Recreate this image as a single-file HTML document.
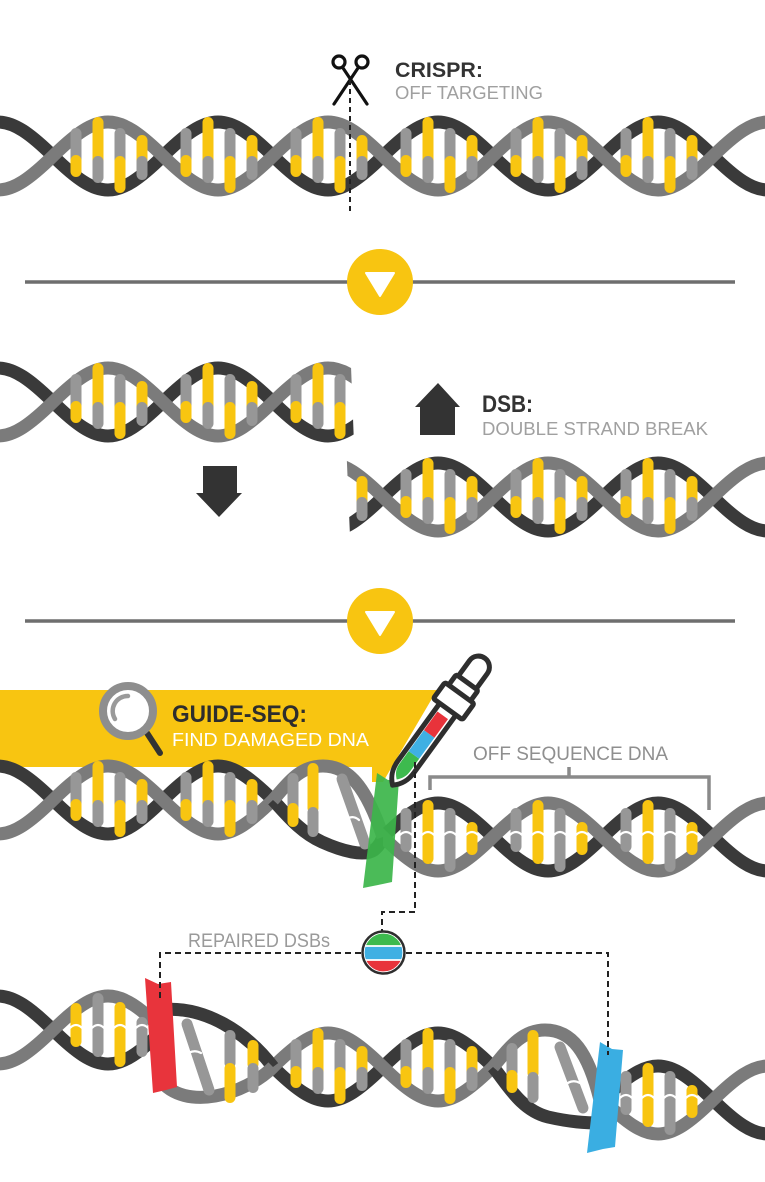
<!DOCTYPE html>
<html><head><meta charset="utf-8">
<style>html,body{margin:0;padding:0;background:#fff}svg{display:block}</style>
</head><body>
<svg width="765" height="1182" viewBox="0 0 765 1182" xmlns="http://www.w3.org/2000/svg" font-family="'Liberation Sans', sans-serif">
<defs>
  <path id="gs" fill="none" stroke="#7b7b7b" stroke-width="13" d="M-57,0c46.2,45.3 63.8,45.3 110,0c46.2,-45.3 63.8,-45.3 110,0c46.2,45.3 63.8,45.3 110,0c46.2,-45.3 63.8,-45.3 110,0c46.2,45.3 63.8,45.3 110,0c46.2,-45.3 63.8,-45.3 110,0c46.2,45.3 63.8,45.3 110,0c46.2,-45.3 63.8,-45.3 110,0"/>
  <path id="ds" fill="none" stroke="#3a3a3a" stroke-width="13" d="M-57,0c46.2,-45.3 63.8,-45.3 110,0c46.2,45.3 63.8,45.3 110,0c46.2,-45.3 63.8,-45.3 110,0c46.2,45.3 63.8,45.3 110,0c46.2,-45.3 63.8,-45.3 110,0c46.2,45.3 63.8,45.3 110,0c46.2,-45.3 63.8,-45.3 110,0c46.2,45.3 63.8,45.3 110,0"/>
  <g id="L" stroke-width="11" stroke-linecap="round" fill="none">
    <path d="M23,-22.5V4" stroke="#979797"/>
    <path d="M23,4.5V15.5" stroke="#f8c511"/>
    <path d="M45,-33.5V5" stroke="#f8c511"/>
    <path d="M45,5.5V21.5" stroke="#979797"/>
    <path d="M67,-22.5V5" stroke="#979797"/>
    <path d="M67,5.5V31.5" stroke="#f8c511"/>
    <path d="M89,-15.5V5" stroke="#f8c511"/>
    <path d="M89,5.5V18.5" stroke="#979797"/>
  </g>
  <g id="LG" stroke-width="11" stroke-linecap="round" fill="none">
    <path d="M23,-23.5V9.5" stroke="#979797"/>
    <path d="M45,-31.5V21.5" stroke="#f8c511"/>
    <path d="M67,-23.5V29.5" stroke="#979797"/>
    <path d="M89,-9.5V12.5" stroke="#f8c511"/>
    <path d="M15,0q8,-10 16,0M37,0q8,-10 16,0M59,0q8,-10 16,0M81,0q8,-10 16,0" stroke="#fff" stroke-width="2.2" stroke-linecap="butt"/>
  </g>
  <g id="LY" stroke-width="11" stroke-linecap="round" fill="none">
    <path d="M23,-21.5V11.5" stroke="#f8c511"/>
    <path d="M45,-31.5V21.5" stroke="#979797"/>
    <path d="M67,-22.5V31.5" stroke="#f8c511"/>
    <path d="M89,-7.5V21.5" stroke="#979797"/>
    <path d="M15,0q8,-10 16,0M37,0q8,-10 16,0M59,0q8,-10 16,0M81,0q8,-10 16,0" stroke="#fff" stroke-width="2.2" stroke-linecap="butt"/>
  </g>
  <clipPath id="c1"><polygon points="0,340 350,340 355,470 0,470"/></clipPath>
  <clipPath id="c2"><polygon points="346,440 765,440 765,560 351,560"/></clipPath>
  <clipPath id="c3"><rect x="0" y="740" width="273.5" height="120"/></clipPath>
  <clipPath id="c4"><rect x="383" y="780" width="382" height="120"/></clipPath>
  <clipPath id="c5"><rect x="0" y="970" width="162" height="120"/></clipPath>
  <clipPath id="c6"><rect x="273" y="1000" width="220.5" height="120"/></clipPath>
  <clipPath id="c7"><rect x="598" y="1040" width="167" height="120"/></clipPath>
  <clipPath id="cc"><circle cx="383.5" cy="952.5" r="21"/></clipPath>
</defs>
<rect width="765" height="1182" fill="#fff"/>

<!-- Header: scissors + text -->
<g stroke="#111" stroke-width="3.2" fill="none" stroke-linecap="round">
  <circle cx="339" cy="62" r="6"/><circle cx="362" cy="62" r="6"/>
  <path d="M343,68 L367,104 M358,68 L334,104"/>
</g>
<text x="395" y="77" font-weight="bold" font-size="21" fill="#333" textLength="88" lengthAdjust="spacingAndGlyphs">CRISPR:</text>
<text x="395" y="99" font-size="18" fill="#a0a0a0" textLength="148" lengthAdjust="spacingAndGlyphs">OFF TARGETING</text>

<!-- Top DNA -->
<g transform="translate(0,156)">
  <use href="#ds"/><use href="#gs"/>
  <use href="#L" x="53"/><use href="#L" x="163"/><use href="#L" x="273"/><use href="#L" x="383"/><use href="#L" x="493"/><use href="#L" x="603"/>
</g>
<path d="M350,80V215" stroke="#222" stroke-width="2" stroke-dasharray="5,4"/>

<!-- Rules -->
<path d="M25,282H735M25,621H735" stroke="#6e6e6e" stroke-width="3.5"/>
<circle cx="380" cy="282" r="33" fill="#f8c511"/>
<path d="M366,273H394L380,296Z" fill="#fff" stroke="#fff" stroke-width="2" stroke-linejoin="round"/>
<circle cx="380" cy="621" r="33" fill="#f8c511"/>
<path d="M366,612H394L380,635Z" fill="#fff" stroke="#fff" stroke-width="2" stroke-linejoin="round"/>

<!-- Middle broken DNA -->
<g clip-path="url(#c1)"><g transform="translate(0,402)">
  <use href="#ds"/><use href="#gs"/>
  <use href="#L" x="53"/><use href="#L" x="163"/><use href="#L" x="273"/>
</g></g>
<g clip-path="url(#c2)"><g transform="translate(0,497)">
  <use href="#ds"/><use href="#gs"/>
  <use href="#L" x="273"/><use href="#L" x="383"/><use href="#L" x="493"/><use href="#L" x="603"/>
</g></g>
<polygon points="203,466 237,466 237,493 242,493 219,517 196,493 203,493" fill="#333"/>
<polygon points="438,383 460,407 455,407 455,435 420,435 420,407 415,407" fill="#333"/>
<text x="482" y="412" font-weight="bold" font-size="24" fill="#333" textLength="51" lengthAdjust="spacingAndGlyphs">DSB:</text>
<text x="482" y="435" font-size="18" fill="#a0a0a0" textLength="226" lengthAdjust="spacingAndGlyphs">DOUBLE STRAND BREAK</text>

<!-- Guide-seq banner -->
<polygon points="0,690 437,690 383,782 372,782 372,767 0,767" fill="#f8c511"/>
<line x1="147" y1="733" x2="160" y2="753" stroke="#333" stroke-width="6" stroke-linecap="round"/>
<circle cx="128" cy="711" r="25" fill="#fff" stroke="#8e8e8e" stroke-width="8"/>
<path d="M115,719 A15,15 0 0 1 128,696" fill="none" stroke="#9a9a9a" stroke-width="4.5" stroke-linecap="round"/>
<text x="172" y="722" font-weight="bold" font-size="24" fill="#2d2d2d" textLength="135" lengthAdjust="spacingAndGlyphs">GUIDE-SEQ:</text>
<text x="172" y="746" font-size="18" fill="#fff" textLength="197" lengthAdjust="spacingAndGlyphs">FIND DAMAGED DNA</text>

<!-- Off sequence label + bracket -->
<text x="473" y="760" font-size="19" fill="#8f8f8f" textLength="195" lengthAdjust="spacingAndGlyphs">OFF SEQUENCE DNA</text>
<path d="M430,790V777H709V810M569,777V767" fill="none" stroke="#8a8a8a" stroke-width="3.5"/>

<!-- Guide-seq DNA -->
<g clip-path="url(#c3)"><g transform="translate(0,800)">
  <use href="#ds"/><use href="#gs"/>
  <use href="#L" x="53"/><use href="#L" x="163"/>
</g></g>
<path d="M273,800 C286,814 300,832 322,842 C342,851 364,857 374,850 C379,846 381,842 383,837" fill="none" stroke="#3a3a3a" stroke-width="13"/>
<path d="M273,800 C286,786 298,766 323,766 C348,766 366,786 383,837" fill="none" stroke="#7b7b7b" stroke-width="13"/>
<g stroke-width="11" stroke-linecap="round" fill="none">
  <path d="M293,778.5V806" stroke="#979797"/>
  <path d="M293,808.5V821.5" stroke="#f8c511"/>
  <path d="M313,768.5V808" stroke="#f8c511"/>
  <path d="M313,812.5V831.5" stroke="#979797"/>
  <path d="M342,779L365,844" stroke="#979797"/>
  <path d="M342,823q9,-10 17,-3" stroke="#fff" stroke-width="2.2"/>
</g>
<g clip-path="url(#c4)"><g transform="translate(0,837)">
  <use href="#ds"/><use href="#gs"/>
  <use href="#LG" x="383"/><use href="#LG" x="493"/><use href="#LG" x="603"/>
</g></g>
<polygon points="377,773 388,780 399,779 392,882 378,885 363,888" fill="#3cb54a" opacity="0.92"/>

<!-- Dropper -->
<g transform="translate(392,786) rotate(-54)" stroke="#2e2e2e" stroke-width="5" stroke-linejoin="round">
  <rect x="120" y="-11" width="38" height="22" rx="11" fill="#fff"/>
  <rect x="112" y="-13.5" width="16" height="27" rx="2" fill="#fff"/>
  <path d="M1,0 C7,-7 14,-10 24,-10 L100,-10 L100,10 L24,10 C14,10 7,7 1,0Z" fill="#fff"/>
  <rect x="95" y="-18" width="20" height="36" rx="2" fill="#fff"/>
  <g stroke="none">
    <path d="M8,0 C12,-4.5 16,-7 22,-7 L38,-7 L38,6 L22,6 C16,6 12,3.5 8,0Z" fill="#3dba4e"/>
    <rect x="38" y="-7" width="26" height="13" fill="#3fb0e3"/>
    <rect x="64" y="-7" width="23" height="13" fill="#e8333b"/>
  </g>
</g>

<!-- Bottom repaired DNA -->
<g clip-path="url(#c5)"><g transform="translate(0,1030)">
  <use href="#ds"/><use href="#gs"/>
  <use href="#LY" x="53"/>
</g></g>
<g clip-path="url(#c6)"><g transform="translate(0,1067)">
  <use href="#ds"/><use href="#gs"/>
  <use href="#L" x="273"/><use href="#L" x="383"/>
</g></g>
<path d="M158,1010 C205,1004 248,1034 273,1067" fill="none" stroke="#3a3a3a" stroke-width="13"/>
<path d="M160,1080 C185,1112 245,1095 273,1067" fill="none" stroke="#7b7b7b" stroke-width="13"/>
<path d="M493,1067 C506,1082 520,1110 548,1117 C570,1122 585,1123 602,1123" fill="none" stroke="#3a3a3a" stroke-width="13"/>
<path d="M493,1067 C506,1052 520,1030 545,1030 C572,1030 588,1052 600,1100" fill="none" stroke="#7b7b7b" stroke-width="13"/>
<g stroke-width="11" stroke-linecap="round" fill="none">
  <path d="M187,1024L209,1090" stroke="#979797"/>
  <path d="M184,1057q8,-9 17,-4" stroke="#fff" stroke-width="2.2"/>
  <path d="M230,1035.5V1063" stroke="#979797"/>
  <path d="M230,1068.5V1097.5" stroke="#f8c511"/>
  <path d="M253,1045.5V1064" stroke="#f8c511"/>
  <path d="M253,1068.5V1087.5" stroke="#979797"/>
  <path d="M512,1048.5V1072" stroke="#979797"/>
  <path d="M512,1075.5V1087.5" stroke="#f8c511"/>
  <path d="M533,1035.5V1073" stroke="#f8c511"/>
  <path d="M533,1077.5V1097.5" stroke="#979797"/>
  <path d="M560,1047L583,1108" stroke="#979797"/>
  <path d="M563,1087q8,-9 17,-4" stroke="#fff" stroke-width="2.2"/>
</g>
<g clip-path="url(#c7)"><g transform="translate(0,1100)">
  <use href="#ds"/><use href="#gs"/>
  <use href="#LG" x="603"/>
</g></g>
<polygon points="145,978 158,984 171,982 177,1087 166,1090 153,1093" fill="#e8343c"/>
<polygon points="600,1042 612,1049 623,1050 615,1147 603,1149 587,1153" fill="#3aaee2"/>

<!-- Connectors -->
<g stroke="#222" stroke-width="2" fill="none" stroke-dasharray="6,4">
  <path d="M415,762V912H382V931"/>
  <path d="M160,998V953H361"/>
  <path d="M406,953H608V1055"/>
</g>
<text x="188" y="947" font-size="19" fill="#9a9a9a" textLength="142" lengthAdjust="spacingAndGlyphs">REPAIRED DSBs</text>
<g clip-path="url(#cc)">
  <rect x="360" y="928" width="48" height="18" fill="#3dba4e"/>
  <rect x="360" y="946" width="48" height="14" fill="#3fb0e3"/>
  <rect x="360" y="960" width="48" height="18" fill="#e8333b"/>
  <path d="M360,946H408M360,960H408" stroke="#fff" stroke-width="1.8"/>
</g>
<circle cx="383.5" cy="952.5" r="19.5" fill="none" stroke="#fff" stroke-width="1.2"/>
<circle cx="383.5" cy="952.5" r="21" fill="none" stroke="#2e2e2e" stroke-width="2.5"/>
</svg>
</body></html>
